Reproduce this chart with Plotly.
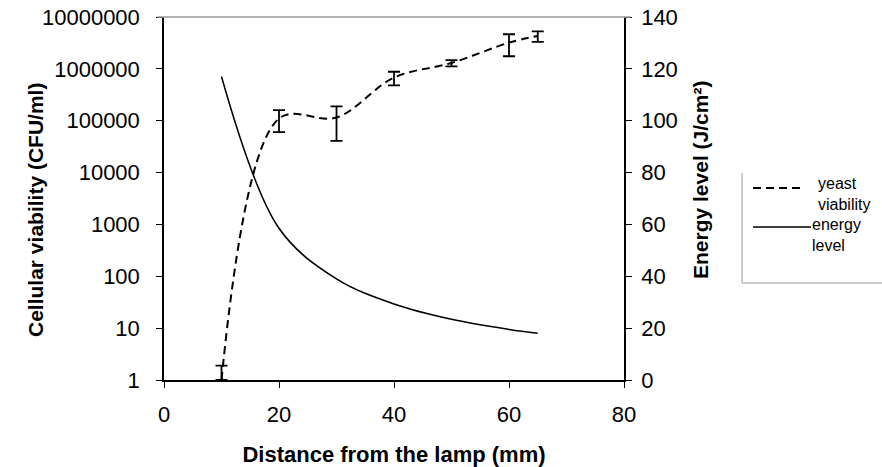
import plotly.graph_objects as go

# ---- data ----
distance_mm = [10, 20, 30, 40, 50, 60, 65]
yeast_cfu = [1, 110000, 115000, 680000, 1300000, 3200000, 4300000]
yeast_err_plus = [0.9, 50000, 74000, 200000, 180000, 1450000, 1000000]
yeast_err_minus = [0, 50000, 74000, 200000, 180000, 1450000, 1000000]
energy_j = [117, 58.5, 39, 29.3, 23.4, 19.5, 18]

x_ticks = [0, 20, 40, 60, 80]
y_log_ticks = [1, 10, 100, 1000, 10000, 100000, 1000000, 10000000]
y_log_labels = ["1", "10", "100", "1000", "10000", "100000", "1000000", "10000000"]
y2_ticks = [0, 20, 40, 60, 80, 100, 120, 140]

FONT = "Liberation Sans, Arial, sans-serif"

W, H = 882, 467
L, R, T, B = 164, 624, 17, 380


def px(x):
    return (x - L) / (R - L)


def py(y):
    return (B - y) / (B - T)


fig = go.Figure()
fig.add_trace(go.Scatter(
    x=distance_mm, y=yeast_cfu, name="yeast viability", mode="lines",
    line=dict(color="black", width=2, dash="8px,5px", shape="spline", smoothing=1),
    error_y=dict(type="data", symmetric=False, array=yeast_err_plus,
                 arrayminus=yeast_err_minus, color="black", thickness=1.8, width=6),
    yaxis="y", showlegend=False,
))
fig.add_trace(go.Scatter(
    x=distance_mm, y=energy_j, name="energy level", mode="lines",
    line=dict(color="black", width=1.6, shape="spline", smoothing=1),
    yaxis="y2", showlegend=False,
))

LEG_FONT = dict(family=FONT, size=16, color="black")
GRAY = "#9a9a9a"

fig.update_layout(
    width=W, height=H,
    margin=dict(l=L, r=W - R, t=T, b=H - B, autoexpand=False),
    paper_bgcolor="white", plot_bgcolor="white",
    font=dict(family=FONT, size=22, color="black"),
    showlegend=False,
    xaxis=dict(range=[0, 80], tickvals=x_ticks, ticks="outside", ticklen=6,
               tickcolor="black", showline=True, linecolor="black", linewidth=1.5,
               showgrid=False, zeroline=False, ticklabelstandoff=8,
               title=dict(text="<b>Distance from the lamp (mm)</b>", font=dict(size=22), standoff=21)),
    yaxis=dict(type="log", range=[0, 7], tickvals=y_log_ticks, ticktext=y_log_labels,
               ticks="outside", ticklen=6, tickcolor="black", showline=True,
               linecolor="black", linewidth=1.5, showgrid=False, zeroline=False,
               ticklabelstandoff=12, ticklabeloverflow="allow"),
    yaxis2=dict(overlaying="y", side="right", range=[0, 140], tickvals=y2_ticks,
                ticks="outside", ticklen=6, tickcolor="black", showline=True,
                linecolor="black", linewidth=1.5, showgrid=False, zeroline=False,
                ticklabelstandoff=5, ticklabeloverflow="allow"),
    annotations=[
        dict(text="<b>Cellular viability (CFU/ml)</b>", textangle=-90, xref="paper", yref="paper",
             x=px(36), y=py(210), xanchor="center", yanchor="middle", showarrow=False,
             font=dict(family=FONT, size=21, color="black")),
        dict(text="<b>Energy level (J/cm²)</b>", textangle=-90, xref="paper", yref="paper",
             x=px(700), y=py(180), xanchor="center", yanchor="middle", showarrow=False,
             font=dict(family=FONT, size=21, color="black")),
        # legend text
        dict(text="yeast<br>viability", xref="paper", yref="paper", x=px(816), y=py(194),
             xanchor="left", yanchor="middle", align="left", showarrow=False, font=LEG_FONT),
        dict(text="energy<br>level", xref="paper", yref="paper", x=px(810), y=py(235),
             xanchor="left", yanchor="middle", align="left", showarrow=False, font=LEG_FONT),
    ],
    shapes=[
        # top border of plot area
        dict(type="line", xref="paper", yref="paper", x0=px(157), x1=px(631), y0=1, y1=1,
             line=dict(color=GRAY, width=1.5)),
        # legend frame (left and bottom edges)
        dict(type="line", xref="paper", yref="paper", x0=px(742), x1=px(742),
             y0=py(173), y1=py(283), line=dict(color=GRAY, width=1)),
        dict(type="line", xref="paper", yref="paper", x0=px(742), x1=px(882),
             y0=py(283), y1=py(283), line=dict(color=GRAY, width=1)),
        # legend keys
        dict(type="line", xref="paper", yref="paper", x0=px(753), x1=px(802),
             y0=py(188), y1=py(188), line=dict(color="black", width=2, dash="8px,5px")),
        dict(type="line", xref="paper", yref="paper", x0=px(753), x1=px(811),
             y0=py(227), y1=py(227), line=dict(color="black", width=1.6)),
    ],
)

fig.write_html(
    "out.html",
    config={"displayModeBar": False},
    post_script="document.body.style.margin='0';document.body.style.overflow='hidden';",
)
